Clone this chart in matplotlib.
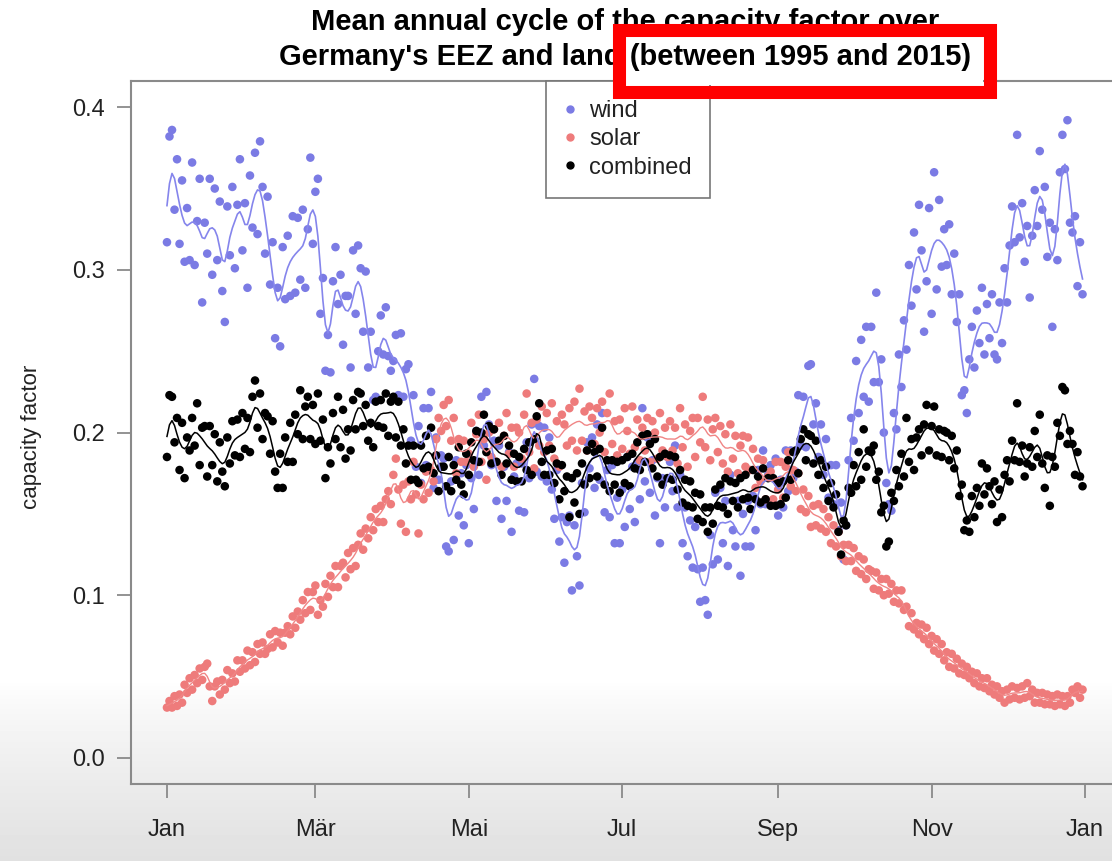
import numpy as np
import matplotlib.pyplot as plt
from matplotlib.lines import Line2D
from matplotlib.patches import Rectangle

plt.rcParams['font.family'] = ['Liberation Sans', 'DejaVu Sans']

# daily mean capacity factor (values in 1/1000), 1 Jan .. 31 Dec
wind = np.array([
    317, 382, 386, 337, 368, 316, 355, 305, 338, 306,
    366, 303, 330, 356, 280, 329, 310, 356, 297, 350,
    306, 342, 287, 268, 339, 309, 351, 301, 340, 368,
    312, 341, 289, 358, 326, 372, 322, 379, 351, 310,
    345, 291, 317, 258, 289, 253, 314, 282, 321, 284,
    333, 286, 332, 294, 337, 289, 325, 369, 316, 348,
    356, 273, 295, 238, 260, 237, 293, 314, 279, 297,
    254, 284, 284, 240, 312, 273, 315, 301, 262, 299,
    240, 262, 220, 222, 250, 272, 248, 277, 247, 238,
    244, 260, 223, 261, 222, 239, 242, 195, 223, 179,
    204, 169, 215, 180, 215, 225, 166, 197, 171, 186,
    184, 130, 127, 170, 134, 183, 149, 175, 143, 180,
    132, 172, 153, 201, 174, 222, 192, 225, 205, 180,
    195, 158, 192, 147, 179, 158, 188, 139, 173, 181,
    152, 181, 151, 194, 172, 205, 233, 176, 204, 173,
    203, 170, 197, 165, 147, 177, 133, 148, 120, 145,
    149, 103, 143, 124, 106, 169, 151, 194, 178, 197,
    166, 205, 171, 212, 151, 177, 148, 180, 132, 160,
    132, 165, 142, 185, 153, 179, 145, 182, 159, 215,
    170, 197, 163, 183, 149, 172, 132, 172, 154, 185,
    182, 164, 192, 154, 174, 132, 154, 124, 146, 117,
    142, 116, 96, 117, 97, 88, 137, 119, 163, 122,
    166, 132, 158, 118, 174, 140, 130, 158, 112, 150,
    130, 158, 130, 161, 140, 177, 156, 189, 156, 174,
    180, 157, 184, 149, 171, 154, 189, 164, 189, 172,
    176, 223, 192, 222, 191, 241, 242, 205, 218, 185,
    205, 174, 196, 160, 180, 156, 180, 140, 157, 122,
    143, 183, 209, 195, 244, 212, 257, 222, 265, 219,
    265, 231, 286, 231, 245, 200, 169, 156, 152, 212,
    202, 248, 228, 269, 251, 303, 278, 323, 288, 340,
    312, 262, 293, 338, 273, 360, 288, 343, 302, 325,
    303, 328, 285, 310, 268, 285, 223, 226, 212, 245,
    265, 240, 275, 255, 289, 248, 279, 258, 285, 248,
    245, 280, 255, 301, 280, 315, 339, 317, 383, 320,
    341, 305, 327, 283, 321, 349, 327, 373, 337, 351,
    308, 329, 265, 325, 306, 360, 383, 362, 392, 329,
    323, 333, 290, 317, 285]) / 1000

solar = np.array([
    31, 35, 31, 38, 32, 39, 34, 45, 40, 49,
    42, 51, 46, 55, 48, 56, 58, 44, 35, 44,
    47, 39, 48, 42, 54, 46, 52, 47, 60, 53,
    60, 55, 66, 57, 65, 59, 70, 64, 71, 64,
    67, 76, 68, 78, 71, 77, 69, 77, 81, 76,
    87, 80, 90, 85, 97, 89, 102, 91, 102, 106,
    88, 97, 93, 107, 99, 112, 105, 118, 105, 118,
    120, 111, 126, 116, 129, 118, 131, 138, 128, 141,
    135, 148, 140, 153, 145, 155, 145, 159, 164, 156,
    174, 184, 165, 144, 168, 139, 170, 159, 182, 162,
    138, 168, 159, 176, 163, 177, 170, 196, 209, 201,
    217, 204, 220, 195, 209, 175, 196, 182, 195, 182,
    187, 206, 179, 199, 211, 182, 196, 171, 200, 185,
    202, 182, 206, 179, 198, 212, 187, 203, 179, 203,
    200, 184, 211, 224, 188, 206, 178, 208, 192, 216,
    188, 212, 192, 218, 184, 207, 179, 211, 205, 192,
    215, 195, 219, 189, 227, 195, 213, 189, 216, 209,
    193, 215, 200, 219, 188, 212, 224, 193, 207, 186,
    208, 190, 215, 201, 187, 216, 191, 208, 183, 203,
    189, 209, 182, 207, 200, 184, 212, 189, 203, 185,
    207, 189, 203, 181, 215, 191, 205, 179, 201, 209,
    185, 209, 194, 222, 191, 208, 183, 202, 209, 188,
    204, 181, 199, 176, 205, 184, 198, 175, 192, 198,
    179, 197, 177, 190, 166, 184, 170, 183, 159, 173,
    176, 159, 182, 165, 182, 160, 179, 188, 167, 177,
    164, 175, 153, 165, 151, 161, 142, 155, 143, 156,
    141, 153, 139, 148, 132, 143, 130, 139, 124, 131,
    121, 131, 121, 129, 115, 124, 113, 122, 110, 116,
    115, 104, 114, 103, 110, 100, 110, 101, 107, 96,
    103, 95, 103, 91, 93, 81, 89, 79, 83, 76,
    82, 73, 80, 70, 75, 66, 73, 64, 70, 60,
    65, 56, 64, 55, 61, 52, 58, 51, 56, 49,
    53, 46, 52, 44, 49, 43, 49, 41, 45, 39,
    44, 37, 41, 34, 42, 36, 44, 37, 43, 36,
    44, 37, 46, 38, 42, 34, 40, 34, 40, 33,
    39, 33, 38, 32, 39, 33, 38, 32, 38, 34,
    42, 40, 44, 37, 42]) / 1000

combined = np.array([
    185, 223, 222, 194, 209, 177, 206, 172, 197, 189,
    209, 192, 218, 180, 203, 204, 173, 204, 180, 199,
    170, 194, 176, 167, 197, 181, 207, 186, 208, 185,
    212, 190, 209, 188, 222, 232, 203, 224, 196, 212,
    210, 187, 207, 176, 166, 187, 166, 197, 182, 206,
    182, 211, 199, 226, 196, 216, 222, 196, 217, 193,
    224, 195, 208, 172, 191, 181, 212, 196, 222, 191,
    214, 184, 202, 189, 220, 202, 225, 224, 204, 217,
    195, 206, 191, 219, 204, 220, 203, 224, 198, 219,
    222, 197, 219, 192, 202, 181, 192, 171, 192, 171,
    169, 192, 178, 198, 179, 203, 175, 186, 164, 179,
    179, 167, 185, 164, 180, 171, 191, 168, 162, 187,
    174, 194, 183, 201, 182, 200, 211, 188, 204, 181,
    202, 182, 195, 174, 198, 181, 192, 171, 187, 170,
    185, 170, 190, 177, 194, 174, 196, 210, 218, 182,
    174, 189, 174, 190, 169, 181, 159, 180, 164, 173,
    148, 172, 157, 175, 150, 181, 168, 189, 172, 193,
    188, 173, 190, 203, 168, 183, 164, 183, 168, 182,
    163, 183, 169, 185, 167, 187, 178, 194, 177, 198,
    182, 199, 193, 178, 196, 173, 185, 168, 187, 172,
    186, 171, 185, 165, 177, 157, 171, 155, 170, 154,
    163, 147, 162, 145, 154, 139, 154, 144, 165, 155,
    168, 154, 172, 150, 170, 158, 169, 154, 172, 159,
    174, 160, 153, 177, 159, 173, 157, 178, 159, 172,
    155, 172, 155, 169, 156, 170, 160, 183, 171, 188,
    189, 175, 196, 202, 183, 199, 198, 181, 195, 174,
    183, 166, 179, 158, 169, 154, 162, 139, 125, 146,
    143, 166, 163, 180, 167, 188, 171, 202, 179, 189,
    188, 192, 171, 176, 151, 155, 130, 133, 163, 158,
    177, 167, 187, 173, 209, 182, 196, 177, 197, 202,
    186, 205, 217, 189, 204, 216, 186, 202, 185, 201,
    200, 183, 198, 178, 189, 161, 168, 140, 146, 139,
    161, 148, 166, 155, 181, 162, 178, 167, 156, 170,
    145, 165, 148, 174, 183, 170, 195, 183, 218, 182,
    192, 173, 181, 191, 179, 201, 185, 211, 181, 166,
    186, 155, 185, 179, 206, 198, 228, 226, 193, 201,
    193, 174, 188, 173, 167]) / 1000

month_days = [0, 59, 120, 181, 243, 304, 365]
month_labels = ["Jan", "Mär", "Mai", "Jul", "Sep", "Nov", "Jan"]
y_ticks = [0.0, 0.1, 0.2, 0.3, 0.4]

days = np.arange(len(wind))


def smooth(v, sigma=1.5, r=5):
    k = np.arange(-r, r + 1)
    w = np.exp(-0.5 * (k / sigma) ** 2)
    w /= w.sum()
    return np.convolve(np.pad(v, r, mode="edge"), w, mode="valid")


W, H = 1112, 861
fig = plt.figure(figsize=(W / 100, H / 100), dpi=100)

# grey fade at the bottom of the screenshot
grad = np.ones((H, 1))
rows = np.arange(H)
fade = rows > 680
grad[fade, 0] = 1 - 0.12 * ((rows[fade] - 680) / (H - 680)) ** 0.8
bg = fig.add_axes([0, 0, 1, 1], zorder=-10)
bg.imshow(grad, cmap="gray", vmin=0, vmax=1, aspect="auto", extent=[0, 1, 0, 1])
bg.axis("off")

ax = fig.add_axes([131 / W, 1 - 784 / H, (1119 - 131) / W, (784 - 81) / H])
ax.set_facecolor("none")

blue, red = "#7b7be4", "#ee7b7b"
ax.scatter(days, wind, s=38, color=blue, edgecolors="none", zorder=2)
ax.scatter(days, solar, s=38, color=red, edgecolors="none", zorder=2)
ax.scatter(days, combined, s=38, color="black", edgecolors="none", zorder=3)
ax.plot(days, smooth(wind), color="#8585ec", lw=1.2, zorder=4)
ax.plot(days, smooth(solar), color="#f08585", lw=1.0, zorder=4)
ax.plot(days, smooth(combined), color="black", lw=1.1, zorder=4)

ax.set_xlim(-14.3, 378.5)
ax.set_ylim(-0.016, 0.4161)
ax.set_xticks(month_days)
ax.set_xticklabels(month_labels)
ax.set_yticks(y_ticks)
ax.set_yticklabels([f"{t:.1f}" for t in y_ticks])
for s in ax.spines.values():
    s.set_color("#8a8a8a")
    s.set_linewidth(1.5)
ax.tick_params(axis="both", direction="out", length=10, width=1.3,
               color="#8a8a8a", labelsize=17, labelcolor="#222222")
ax.tick_params(axis="y", pad=9)
ax.tick_params(axis="x", pad=15)

fig.text(32 / W, 1 - 437 / H, "capacity factor", rotation=90,
         ha="center", va="center", fontsize=16, color="#222222")

handles = [Line2D([], [], ls="", marker="o", markersize=5, color=c)
           for c in (blue, red, "black")]
leg = ax.legend(handles, ["wind", "solar", "combined"], loc="upper left",
                bbox_to_anchor=(546 / W, 1 - 81 / H), bbox_transform=fig.transFigure,
                fontsize=17, fancybox=False, framealpha=1, edgecolor="#777777",
                borderaxespad=0, borderpad=0.8, labelspacing=0.27,
                handlelength=0.4, handletextpad=0.62)
leg.get_frame().set_linewidth(1.2)
for t in leg.get_texts():
    t.set_color("#222222")

# white inside of the red highlight box, then the title, then the red frame
fig.patches.append(Rectangle((625 / W, 1 - 85 / H), 358 / W, 49 / H,
                             transform=fig.transFigure, facecolor="white",
                             edgecolor="none", zorder=1.5))
fig.text(625 / W, 1 - 22 / H, "Mean annual cycle of the capacity factor over",
         ha="center", va="center", fontsize=21, fontweight="bold", zorder=3)
fig.text(625 / W, 1 - 57 / H, "Germany's EEZ and land (between 1995 and 2015)",
         ha="center", va="center", fontsize=21, fontweight="bold", zorder=3)
fig.patches.append(Rectangle((618.5 / W, 1 - 91.5 / H), 371 / W, 62 / H,
                             transform=fig.transFigure, facecolor="none",
                             edgecolor="#ff0000", linewidth=9.4, zorder=5))

fig.savefig("out.png", dpi=100)
